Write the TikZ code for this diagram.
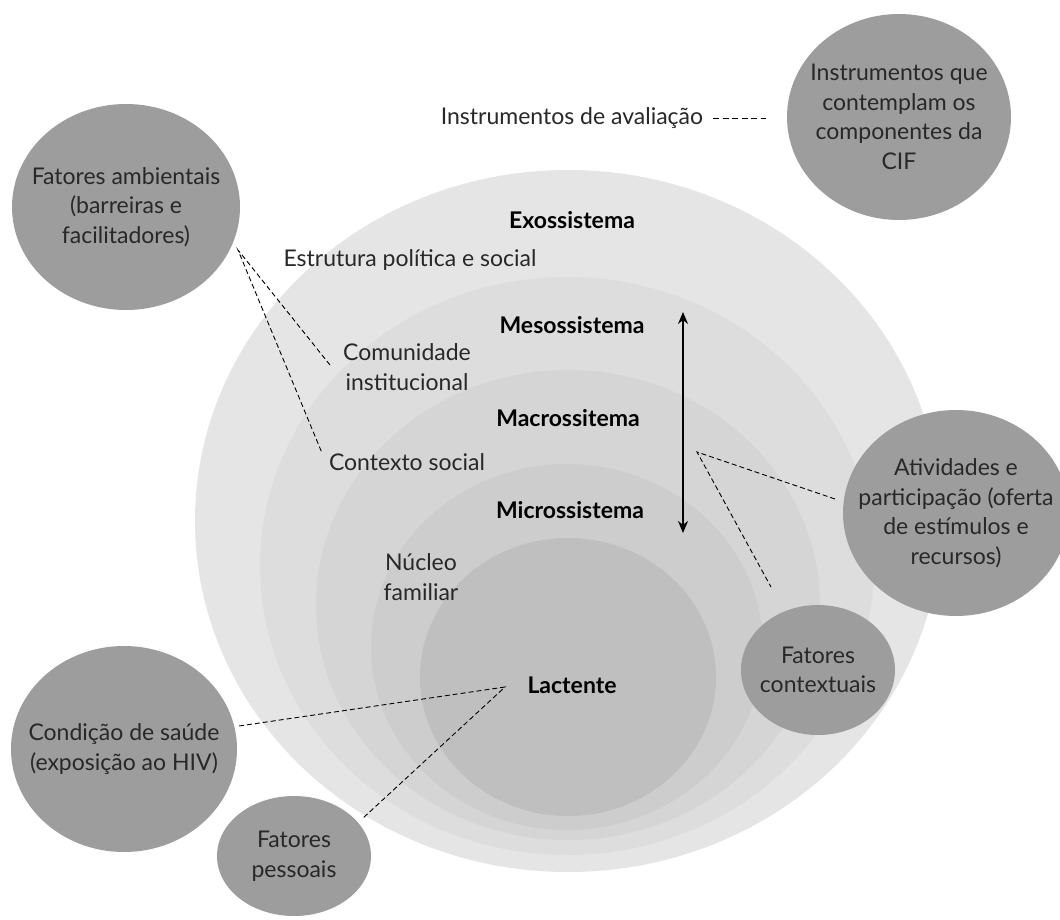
\documentclass[tikz,border=0pt]{standalone}
\usepackage{fontspec}
\setmainfont{Lato}
\usetikzlibrary{arrows.meta,shapes.geometric}
\definecolor{ringA}{RGB}{229,229,229}
\definecolor{ringB}{RGB}{221,221,221}
\definecolor{ringC}{RGB}{213,213,213}
\definecolor{ringD}{RGB}{205,205,205}
\definecolor{ringE}{RGB}{192,191,192}
\definecolor{blobc}{RGB}{157,157,157}
\definecolor{txt}{RGB}{40,40,40}
\begin{document}
\begin{tikzpicture}[x=1pt,y=-1pt,
  lab/.style={font=\fontsize{23}{29.5}\selectfont, text=txt, inner sep=0pt, align=center},
  boldlab/.style={font=\fontsize{23}{29.5}\selectfont\bfseries, text=black, inner sep=0pt},
  blob/.style={ellipse, fill=blobc, inner sep=-45pt, align=center, text=txt,
     font=\fontsize{23}{29.5}\selectfont},
  dline/.style={draw=black, line width=0.9pt, dash pattern=on 5pt off 3pt}]
\useasboundingbox (0,0) rectangle (1060,920);
\fill[white] (0,0) rectangle (1060,920);
% concentric systems
\fill[ringA] (568,521) ellipse [x radius=373pt, y radius=351pt];
\fill[ringB] (567,566) ellipse [x radius=307pt, y radius=289pt];
\fill[ringC] (568,605) ellipse [x radius=252pt, y radius=235pt];
\fill[ringD] (567,647) ellipse [x radius=196pt, y radius=183pt];
\fill[ringE] (568,677) ellipse [x radius=148pt, y radius=139pt];
% labels
\node[boldlab] (exo) at (572,220) {Exossistema};
\node[lab] (estr) at (410,260) {Estrutura política e social};
\node[boldlab] (meso) at (572,325) {Mesossistema};
\node[lab] (comu) at (407,367) {Comunidade\\institucional};
\node[boldlab] (macro) at (568,418) {Macrossitema};
\node[lab] (ctxs) at (407,462) {Contexto social};
\node[boldlab] (micro) at (570,510) {Microssistema};
\node[lab] (nucl) at (421,577) {Núcleo\\familiar};
\node[boldlab] (lact) at (572,685) {Lactente};
% outer circles
\node[blob, minimum width=224pt, minimum height=206pt] (instr) at (899,117)
  {Instrumentos que\\contemplam os\\componentes da\\CIF};
\node[blob, minimum width=228pt, minimum height=206pt] (amb) at (126,207)
  {Fatores ambientais\\(barreiras e\\facilitadores)};
\node[blob, minimum width=226pt, minimum height=206pt] (ativ) at (956,513)
  {Atividades e\\participação (oferta\\de estímulos e\\recursos)};
\node[blob, minimum width=154pt, minimum height=130pt] (ctx) at (818,670)
  {Fatores\\contextuais};
\node[blob, minimum width=226pt, minimum height=206pt] (cond) at (124,749)
  {Condição de saúde\\(exposição ao HIV)};
\node[blob, minimum width=154pt, minimum height=120pt] (pess) at (294,856)
  {Fatores\\pessoais};
\node[lab] (instrlab) at (572,118) {Instrumentos de avaliação};
% connectors
\coordinate (va) at (238,250);
\coordinate (va1) at (330,365);
\coordinate (va2) at (322,453);
\draw[dline] (va1) -- (va) -- (va2);
\coordinate (vb) at (697,452);
\coordinate (vb1) at (835,499);
\coordinate (vb2) at (771,587);
\draw[dline] (vb1) -- (vb) -- (vb2);
\coordinate (vc) at (505,687);
\coordinate (vc1) at (239,726);
\coordinate (vc2) at (362,819);
\draw[dline] (vc1) -- (vc) -- (vc2);
\coordinate (id1) at (713,118);
\coordinate (id2) at (766,118);
\draw[line width=0.9pt, dash pattern=on 6pt off 3.5pt] (id1) -- (id2);
\coordinate (arrtop) at (683,312);
\coordinate (arrbot) at (683,533);
\draw[line width=1.8pt, {Stealth[length=12pt,width=10pt]}-{Stealth[length=12pt,width=10pt]}] (arrtop) -- (arrbot);
\end{tikzpicture}
\end{document}
